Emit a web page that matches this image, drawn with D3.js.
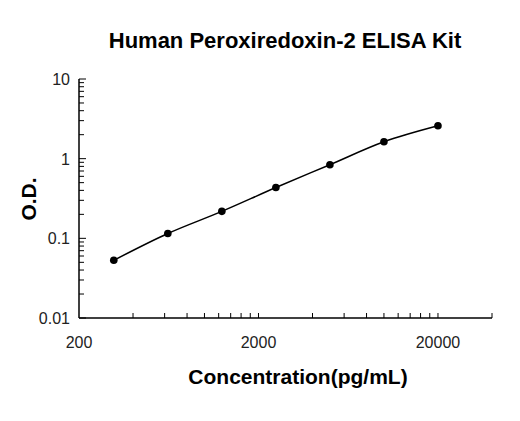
<!DOCTYPE html>
<html><head><meta charset="utf-8">
<script src="https://cdn.jsdelivr.net/npm/d3@7"></script>
<style>body{margin:0;background:#fff}</style>
</head><body>
<script>
const conc = [312.5, 625, 1250, 2500, 5000, 10000, 20000];
const od = [0.053, 0.115, 0.218, 0.434, 0.84, 1.63, 2.59];
const xLabels = [200, 2000, 20000];
const yLabels = [0.01, 0.1, 1, 10];

const width = 520, height = 421;
const svg = d3.select("body").append("svg").attr("width", width).attr("height", height)
  .style("font-family", "Liberation Sans, Arial, sans-serif");

const x = d3.scaleLog().domain([200, 40000]).range([79, 492]);
const y = d3.scaleLog().domain([0.01, 10]).range([318, 79]);

// x axis, ticks at 200*k per decade, pointing up
const xTicks = [];
[200, 2000, 20000].forEach(b => { for (let k = 2; k <= 10; k++) if (b * k <= 40000) xTicks.push(b * k); });
svg.append("line").attr("x1", 79).attr("x2", 492).attr("y1", 318).attr("y2", 318).attr("stroke", "#000").attr("stroke-width", 1.5);
svg.selectAll(".xt").data(xTicks).enter().append("line")
  .attr("x1", d => x(d)).attr("x2", d => x(d)).attr("y1", 318).attr("y2", 313).attr("stroke", "#000");
svg.selectAll(".xl").data(xLabels).enter().append("text")
  .attr("x", d => x(d)).attr("y", 348).attr("text-anchor", "middle").attr("font-size", 16).attr("fill", "#222").text(d => d);

// y axis, ticks pointing right
const yTicks = [];
[0.01, 0.1, 1].forEach(b => { for (let k = 1; k <= 9; k++) yTicks.push(b * k); });
yTicks.push(10);
svg.append("line").attr("x1", 79).attr("x2", 79).attr("y1", 79).attr("y2", 318).attr("stroke", "#000").attr("stroke-width", 1.5);
svg.selectAll(".yt").data(yTicks).enter().append("line")
  .attr("x1", 79).attr("x2", d => Math.abs(Math.log10(d) - Math.round(Math.log10(d))) < 1e-6 ? 86 : 84)
  .attr("y1", d => y(d)).attr("y2", d => y(d)).attr("stroke", "#000");
svg.selectAll(".yl").data(yLabels).enter().append("text")
  .attr("x", 70).attr("y", d => y(d) + 6).attr("text-anchor", "end").attr("font-size", 16).attr("fill", "#222").text(d => d);

// curve and points
const line = d3.line().x((d, i) => x(conc[i])).y(d => y(d)).curve(d3.curveMonotoneX);
svg.append("path").attr("d", line(od)).attr("fill", "none").attr("stroke", "#000").attr("stroke-width", 1.5);
svg.selectAll(".pt").data(od).enter().append("circle")
  .attr("cx", (d, i) => x(conc[i])).attr("cy", d => y(d)).attr("r", 3.8).attr("fill", "#000");

// titles
svg.append("text").attr("x", 285).attr("y", 48).attr("text-anchor", "middle").attr("font-size", 22).attr("font-weight", "bold").text("Human Peroxiredoxin-2 ELISA Kit");
svg.append("text").attr("x", 298).attr("y", 384).attr("text-anchor", "middle").attr("font-size", 21).attr("font-weight", "bold").text("Concentration(pg/mL)");
svg.append("text").attr("transform", "translate(36,199) rotate(-90)").attr("text-anchor", "middle").attr("font-size", 21).attr("font-weight", "bold").text("O.D.");
</script>
</body></html>
